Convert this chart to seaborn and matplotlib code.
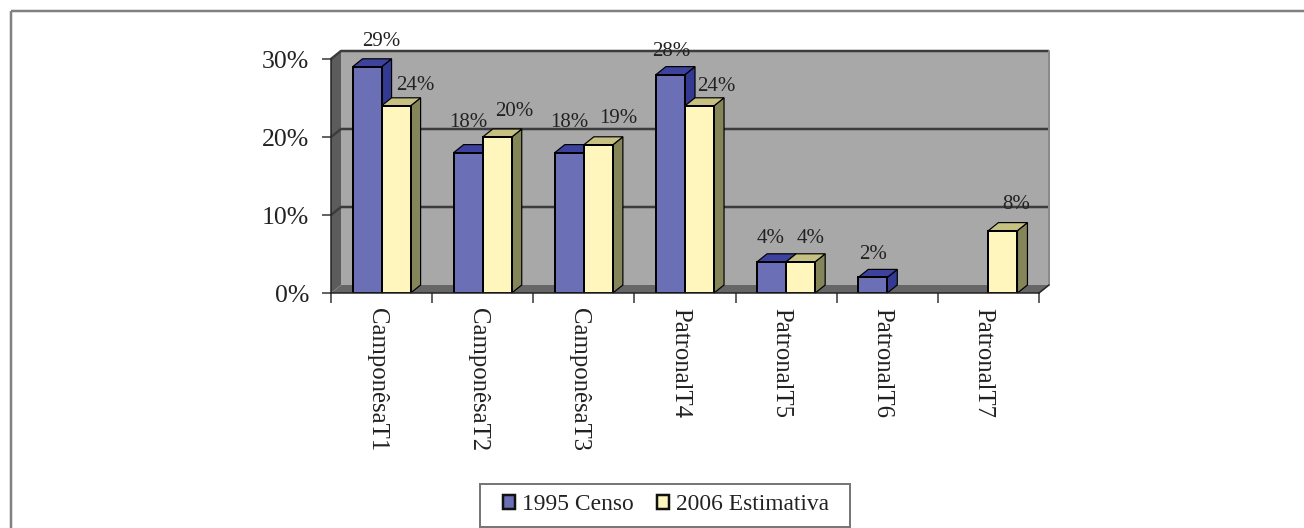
import matplotlib
matplotlib.use("Agg")
import matplotlib.pyplot as plt
from matplotlib.lines import Line2D
from matplotlib.patches import Polygon, Rectangle
from matplotlib.transforms import ScaledTranslation
import numpy as np
import pandas as pd
import seaborn as sns

# Share of establishments by type, per survey
categories = ["CamponêsaT1", "CamponêsaT2", "CamponêsaT3", "PatronalT4",
              "PatronalT5", "PatronalT6", "PatronalT7"]
censo_1995 = [29, 18, 18, 28, 4, 2, np.nan]
estimativa_2006 = [24, 20, 19, 24, 4, np.nan, 8]
series_names = ["1995 Censo", "2006 Estimativa"]
y_ticks = [0, 10, 20, 30]

# Value-label nudges in pixels, one list per series
label_nudge_1995 = [(14, 25), (0, 30), (0, 30), (1, 23), (-1, 23), (0, 23), (0, 0)]
label_nudge_2006 = [(19, 20), (17, 25), (20, 26), (17, 19), (10, 23), (0, 0), (13, 26)]

W, H = 1304, 528
FRONT = ["#6A6FB6", "#FFF6BE"]
SIDE = ["#343A92", "#85855A"]
TOP = ["#3C429E", "#C6C083"]
WALL, DARK_WALL, GRID, INK = "#A8A8A8", "#5C5C5C", "#3C3C3C", "#222222"
px = 0.72  # points per pixel at 100 dpi

sns.set_theme(style="white")
plt.rcParams["font.family"] = ["Liberation Serif", "DejaVu Serif"]

df = pd.DataFrame({
    "categoria": categories * 2,
    "valor": censo_1995 + estimativa_2006,
    "serie": [series_names[0]] * 7 + [series_names[1]] * 7,
})

fig = plt.figure(figsize=(W / 100, H / 100), dpi=100, facecolor="white")
ax = fig.add_axes([331 / W, (H - 293) / H, 708 / W, 234 / H])

sns.barplot(data=df, x="categoria", y="valor", hue="serie", order=categories,
            palette=FRONT, width=0.574, gap=0, saturation=1, dodge=True,
            edgecolor="black", linewidth=2 * px, ax=ax, zorder=4)
ax.set_xlim(-0.5, 6.5)
ax.set_ylim(0, 30)
ax.set_xlabel("")
ax.set_ylabel("")

# Depth of the pseudo-3D projection, in data units
dx = 10 * 7 / 708
dy = 8 * 30 / 234
x0, x1 = -0.5, 6.5


def solid(points, color, z, edge=None, lw=0):
    ax.add_patch(Polygon(points, closed=True, facecolor=color,
                         edgecolor=edge if edge else color, linewidth=lw,
                         clip_on=False, zorder=z))


# Back wall, side wall and floor
solid([(x0 + dx, dy), (x1 + dx, dy), (x1 + dx, 30 + dy), (x0 + dx, 30 + dy)], WALL, 0.5)
solid([(x0, 0), (x0 + dx, dy), (x0 + dx, 30 + dy), (x0, 30)], DARK_WALL, 0.6)
solid([(x0, 0), (x1, 0), (x1 + dx, dy), (x0 + dx, dy)], "#666666", 0.6)

# Gridlines run along the back wall and fold down the side wall
for v in y_ticks[1:]:
    ax.plot([x0, x0 + dx, x1 + dx], [v, v + dy, v + dy], color=GRID,
            lw=2.5 * px, clip_on=False, zorder=1, solid_capstyle="butt")
ax.plot([x1 + dx, x1 + dx], [dy, 30 + dy], color="#8A8A8A", lw=2 * px,
        clip_on=False, zorder=1)
ax.plot([x1, x1 + dx], [0, dy], color="#222222", lw=1.5 * px, clip_on=False, zorder=1)

# Extrude each bar: side and top faces sit behind its front face.
# Bars exist only for present values, so pair them after dropping the gaps.
for s, (container, nudges, values) in enumerate(zip(
        ax.containers, [label_nudge_1995, label_nudge_2006],
        [censo_1995, estimativa_2006])):
    present = [(n, v) for n, v in zip(nudges, values) if not np.isnan(v)]
    drawn = [b for b in container.patches if not np.isnan(b.get_height())]
    for bar, (nudge, value) in zip(drawn, present):
        left = bar.get_x()
        right = left + bar.get_width()
        top = bar.get_height()
        bar.set_zorder(4 + 2 * s)
        solid([(right, 0), (right + dx, dy), (right + dx, top + dy), (right, top)],
              SIDE[s], 3 + 2 * s, "black", 1.2 * px)
        solid([(left, top), (right, top), (right + dx, top + dy), (left + dx, top + dy)],
              TOP[s], 3 + 2 * s, "black", 1.2 * px)
        ax.annotate(f"{value:.0f}%", xy=((left + right) / 2, top), xytext=nudge,
                    textcoords="offset pixels", ha="center", va="center",
                    fontsize=15, color=INK, annotation_clip=False, zorder=9)

# Axis furniture
for name in ["top", "right"]:
    ax.spines[name].set_visible(False)
for name in ["left", "bottom"]:
    ax.spines[name].set_color("#222222")
    ax.spines[name].set_linewidth(1.5 * px)
    ax.spines[name].set_zorder(8)
ax.set_yticks(y_ticks)
ax.set_yticklabels([f"{v}%" for v in y_ticks], fontsize=18.5, color=INK)
ax.set_xticks(np.arange(7))
ax.set_xticklabels(categories, rotation=-90, fontsize=17.8, color=INK, va="top", ha="center")
ax.set_xticks(np.arange(-0.5, 7.0), minor=True)
ax.tick_params(axis="x", which="major", length=0, pad=10.5)
ax.tick_params(axis="x", which="minor", bottom=True, length=10 * px, width=1.5 * px, color="#333333")
ax.tick_params(axis="y", which="major", left=True, length=9 * px, width=1.5 * px, color="#333333", pad=13 * px)

# The rotated category names sit slightly left of their group centres
shift_left = ScaledTranslation(-5 / 100, 0, fig.dpi_scale_trans)
for label in ax.get_xticklabels():
    label.set_transform(label.get_transform() + shift_left)

# Legend inside a box along the bottom edge; the box stays underneath the axes layer
fig.add_artist(Rectangle((479.5 / W, (H - 526.5) / H), 370 / W, 43 / H,
                         transform=fig.transFigure, facecolor="white",
                         edgecolor="#777777", linewidth=2 * px, zorder=-1))
handles, labels = ax.get_legend_handles_labels()
legend = ax.legend(handles, labels, loc="center", bbox_to_anchor=(666 / W, (H - 505) / H),
                   bbox_transform=fig.transFigure, ncols=2, frameon=False, fontsize=16.9,
                   labelcolor=INK, handlelength=0.5, handleheight=0.5, handletextpad=0.3,
                   columnspacing=1.0, borderpad=0, borderaxespad=0)
legend.set_zorder(10)
for handle in legend.get_patches():
    handle.set_linewidth(2.5 * px)
    handle.set_edgecolor("#111111")

# Open frame: top and left rules only
frame = dict(color="#808080", lw=2.5 * px, transform=fig.transFigure, solid_capstyle="butt")
fig.add_artist(Line2D([10.5 / W, 1], [(H - 10.5) / H] * 2, **frame))
fig.add_artist(Line2D([10.5 / W] * 2, [0, (H - 10.5) / H], **frame))

fig.savefig("out.png", dpi=100, facecolor="white")
